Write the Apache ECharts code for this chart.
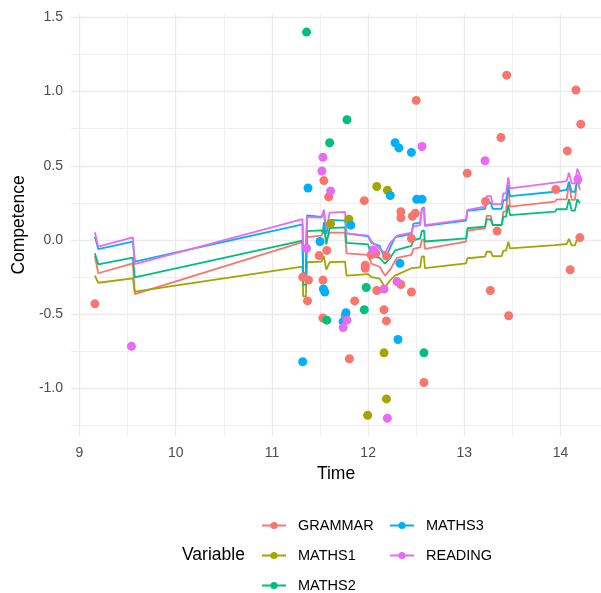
<!DOCTYPE html>
<html><head><meta charset="utf-8">
<script src="https://cdn.jsdelivr.net/npm/echarts@6/dist/echarts.min.js"></script>
<style>html,body{margin:0;padding:0;background:#fff}#c{width:601px;height:593px}</style>
</head><body><div id="c"></div>
<script>
const seriesNames = ['GRAMMAR', 'MATHS1', 'MATHS2', 'MATHS3', 'READING'];
const seriesColors = ['#F8766D', '#A3A500', '#00BF7D', '#00B0F6', '#E76BF3'];
const xTicks = [9, 10, 11, 12, 13, 14];
const xMinor = [9.5, 10.5, 11.5, 12.5, 13.5];
const yTicks = [-1.0, -0.5, 0, 0.5, 1.0, 1.5];
const yMinor = [-1.25, -0.75, -0.25, 0.25, 0.75, 1.25];

// shared time grid of the fitted curves
const lineTime = [9.16, 9.195, 9.555, 9.575, 11.318, 11.325, 11.352, 11.365, 11.515, 11.53, 11.54, 11.565, 11.6, 11.76, 11.775, 12.0, 12.035, 12.12, 12.175, 12.23, 12.28, 12.3, 12.45, 12.47, 12.54, 12.558, 12.58, 12.59, 13.018, 13.032, 13.215, 13.232, 13.274, 13.295, 13.388, 13.405, 13.433, 13.457, 13.474, 13.942, 13.959, 14.063, 14.087, 14.115, 14.149, 14.174, 14.201];
const lineGRAMMAR = [-0.108, -0.224, -0.157, -0.364, -0.015, -0.22, -0.22, 0.02, 0.03, 0.04, 0.06, 0.0, 0.05, 0.05, -0.09, -0.10, -0.16, -0.18, -0.24, -0.2, -0.14, -0.12, -0.10, -0.06, -0.05, 0.0, 0.005, -0.06, -0.011, 0.063, 0.079, 0.162, 0.162, 0.101, 0.101, 0.191, 0.191, 0.37, 0.225, 0.258, 0.274, 0.274, 0.382, 0.27, 0.27, 0.415, 0.337];
const lineMATHS1 = [-0.24, -0.288, -0.258, -0.348, -0.18, -0.38, -0.38, -0.15, -0.145, -0.14, -0.11, -0.2, -0.15, -0.145, -0.24, -0.23, -0.25, -0.26, -0.32, -0.27, -0.24, -0.23, -0.19, -0.185, -0.185, -0.11, -0.11, -0.19, -0.157, -0.123, -0.112, -0.079, -0.079, -0.108, -0.108, -0.072, -0.072, -0.011, -0.056, -0.034, -0.027, -0.027, 0.007, -0.036, -0.036, 0.01, -0.01];
const lineMATHS2 = [-0.09, -0.164, -0.119, -0.251, -0.005, -0.30, -0.30, 0.06, 0.065, 0.05, 0.12, -0.03, 0.08, 0.085, -0.02, -0.03, -0.11, -0.12, -0.16, -0.12, -0.07, -0.06, -0.04, 0.0, 0.01, 0.06, 0.065, -0.01, 0.011, 0.079, 0.09, 0.139, 0.139, 0.101, 0.101, 0.157, 0.157, 0.236, 0.168, 0.191, 0.207, 0.207, 0.274, 0.198, 0.198, 0.274, 0.247];
const lineMATHS3 = [0.022, -0.061, -0.011, -0.146, 0.105, -0.26, -0.26, 0.165, 0.155, 0.145, 0.19, 0.04, 0.135, 0.13, 0.045, 0.025, -0.02, -0.04, -0.13, -0.05, 0.02, 0.03, 0.04, 0.11, 0.115, 0.21, 0.22, 0.095, 0.13, 0.197, 0.209, 0.251, 0.251, 0.209, 0.209, 0.269, 0.269, 0.359, 0.296, 0.325, 0.337, 0.337, 0.393, 0.325, 0.325, 0.41, 0.377];
const lineREADING = [0.052, -0.045, 0.018, -0.162, 0.14, -0.056, -0.056, 0.155, 0.15, 0.15, 0.205, 0.07, 0.185, 0.19, 0.045, 0.03, -0.01, -0.06, -0.085, -0.02, 0.015, 0.03, 0.05, 0.09, 0.10, 0.21, 0.215, 0.10, 0.139, 0.202, 0.224, 0.296, 0.296, 0.242, 0.242, 0.314, 0.314, 0.422, 0.348, 0.386, 0.397, 0.397, 0.453, 0.382, 0.382, 0.48, 0.438];

// observed points
const ptGRAMMARx = [9.16, 11.54, 11.59, 11.96, 13.44, 14.16, 12.50, 14.21, 13.38, 14.07, 13.03, 13.95, 13.22, 12.34, 12.34, 12.46, 12.49, 13.34, 14.20, 12.45, 14.10, 13.27, 13.46, 12.45, 12.34, 12.165, 12.19, 12.58, 11.805, 12.09, 11.86, 11.76, 11.53, 11.53, 11.37, 11.32, 11.38, 11.49, 11.57, 11.97, 11.97, 12.03, 12.08, 12.19];
const ptGRAMMARy = [-0.43, 0.40, 0.29, 0.265, 1.11, 1.01, 0.94, 0.78, 0.69, 0.60, 0.45, 0.34, 0.26, 0.19, 0.15, 0.16, 0.18, 0.06, 0.016, 0.01, -0.20, -0.34, -0.51, -0.35, -0.30, -0.47, -0.545, -0.96, -0.80, -0.34, -0.41, -0.51, -0.525, -0.27, -0.41, -0.25, -0.27, -0.105, -0.07, -0.19, -0.17, -0.10, -0.09, -0.108];
const ptMATHS1x = [11.61, 11.80, 12.09, 12.20, 12.165, 12.19, 11.995];
const ptMATHS1y = [0.11, 0.14, 0.36, 0.335, -0.76, -1.07, -1.18];
const ptMATHS2x = [11.36, 11.78, 11.60, 11.98, 11.96, 11.57, 12.58];
const ptMATHS2y = [1.40, 0.81, 0.655, -0.32, -0.47, -0.54, -0.76];
const ptMATHS3x = [11.375, 11.82, 11.50, 12.28, 12.32, 12.45, 12.23, 12.505, 12.56, 12.33, 12.31, 11.32, 11.77, 11.74, 11.535, 11.55];
const ptMATHS3y = [0.35, 0.10, -0.01, 0.655, 0.62, 0.59, 0.30, 0.274, 0.274, -0.157, -0.67, -0.82, -0.49, -0.55, -0.33, -0.35];
const ptREADINGx = [9.54, 11.53, 11.52, 11.61, 12.56, 13.215, 14.18, 12.30, 12.20, 12.165, 11.78, 11.74, 11.36, 12.05];
const ptREADINGy = [-0.716, 0.557, 0.465, 0.33, 0.63, 0.534, 0.41, -0.28, -1.20, -0.33, -0.54, -0.59, -0.056, -0.067];

const lineVals = [lineGRAMMAR, lineMATHS1, lineMATHS2, lineMATHS3, lineREADING];
const ptXs = [ptGRAMMARx, ptMATHS1x, ptMATHS2x, ptMATHS3x, ptREADINGx];
const ptYs = [ptGRAMMARy, ptMATHS1y, ptMATHS2y, ptMATHS3y, ptREADINGy];

const X_MIN = 8.912, X_MAX = 14.42, Y_MIN = -1.32, Y_MAX = 1.522;
const FONT = 'Liberation Sans, Arial, Helvetica, sans-serif';
const gridMajor = {show: true, lineStyle: {color: '#EBEBEB', width: 1.3}};
const gridMinor = {show: true, lineStyle: {color: '#EDEDED', width: 0.9}};

const series = [];
seriesNames.forEach((n, i) => {
  series.push({
    name: n, type: 'line', showSymbol: false, symbol: 'circle',
    data: lineTime.map((t, k) => [t, lineVals[i][k]]),
    lineStyle: {color: seriesColors[i], width: 1.8},
    itemStyle: {color: seriesColors[i]},
    z: 2 + i * 0.01, silent: true, animation: false
  });
});
seriesNames.forEach((n, i) => {
  series.push({
    name: n, type: 'scatter', symbol: 'circle', symbolSize: 9,
    data: ptXs[i].map((x, k) => [x, ptYs[i][k]]),
    itemStyle: {color: seriesColors[i], opacity: 1},
    z: 3, silent: true, animation: false
  });
});

// legend layout: two columns, column-major (like ggplot)
const legendCols = [261, 261, 261, 389, 389];
const legendRows = [518, 548, 578, 518, 548];
const legends = seriesNames.map((n, i) => ({
  data: [n], orient: 'vertical', left: legendCols[i], top: legendRows[i], padding: 0,
  itemWidth: 24, itemHeight: 9, selectedMode: false,
  textStyle: {fontSize: 14.5, color: '#000', fontFamily: FONT, padding: [0, 0, 0, 7]}
}));

const chart = echarts.init(document.getElementById('c'), null, {renderer: 'canvas'});
chart.setOption({
  animation: false,
  backgroundColor: '#fff',
  textStyle: {fontFamily: FONT},
  grid: {left: 71, right: 0, top: 14, bottom: 157, containLabel: false},
  xAxis: [{
    type: 'value', min: X_MIN, max: X_MAX,
    axisLine: {show: false}, axisTick: {show: false, customValues: xTicks},
    axisLabel: {customValues: xTicks, color: '#4D4D4D', fontSize: 14, margin: 10, fontFamily: FONT},
    splitLine: gridMajor,
    name: 'Time', nameLocation: 'middle', nameGap: 26,
    nameTextStyle: {color: '#000', fontSize: 17.5, fontFamily: FONT}
  }, {
    type: 'value', min: X_MIN, max: X_MAX, position: 'bottom',
    axisLine: {show: false}, axisTick: {show: false, customValues: xMinor},
    axisLabel: {show: false, customValues: xMinor},
    splitLine: gridMinor
  }],
  yAxis: [{
    type: 'value', min: Y_MIN, max: Y_MAX,
    axisLine: {show: false}, axisTick: {show: false, customValues: yTicks},
    axisLabel: {customValues: yTicks, color: '#4D4D4D', fontSize: 14, margin: 8, fontFamily: FONT,
      formatter: v => Number(v).toFixed(1)},
    splitLine: gridMajor,
    name: 'Competence', nameLocation: 'middle', nameGap: 43,
    nameTextStyle: {color: '#000', fontSize: 17.5, fontFamily: FONT}
  }, {
    type: 'value', min: Y_MIN, max: Y_MAX, position: 'left',
    axisLine: {show: false}, axisTick: {show: false, customValues: yMinor},
    axisLabel: {show: false, customValues: yMinor},
    splitLine: gridMinor
  }],
  legend: legends,
  graphic: [{
    type: 'text', left: 182, top: 546,
    style: {text: 'Variable', fontSize: 17.5, fill: '#000', fontFamily: FONT}
  }],
  series: series
});
</script></body></html>
